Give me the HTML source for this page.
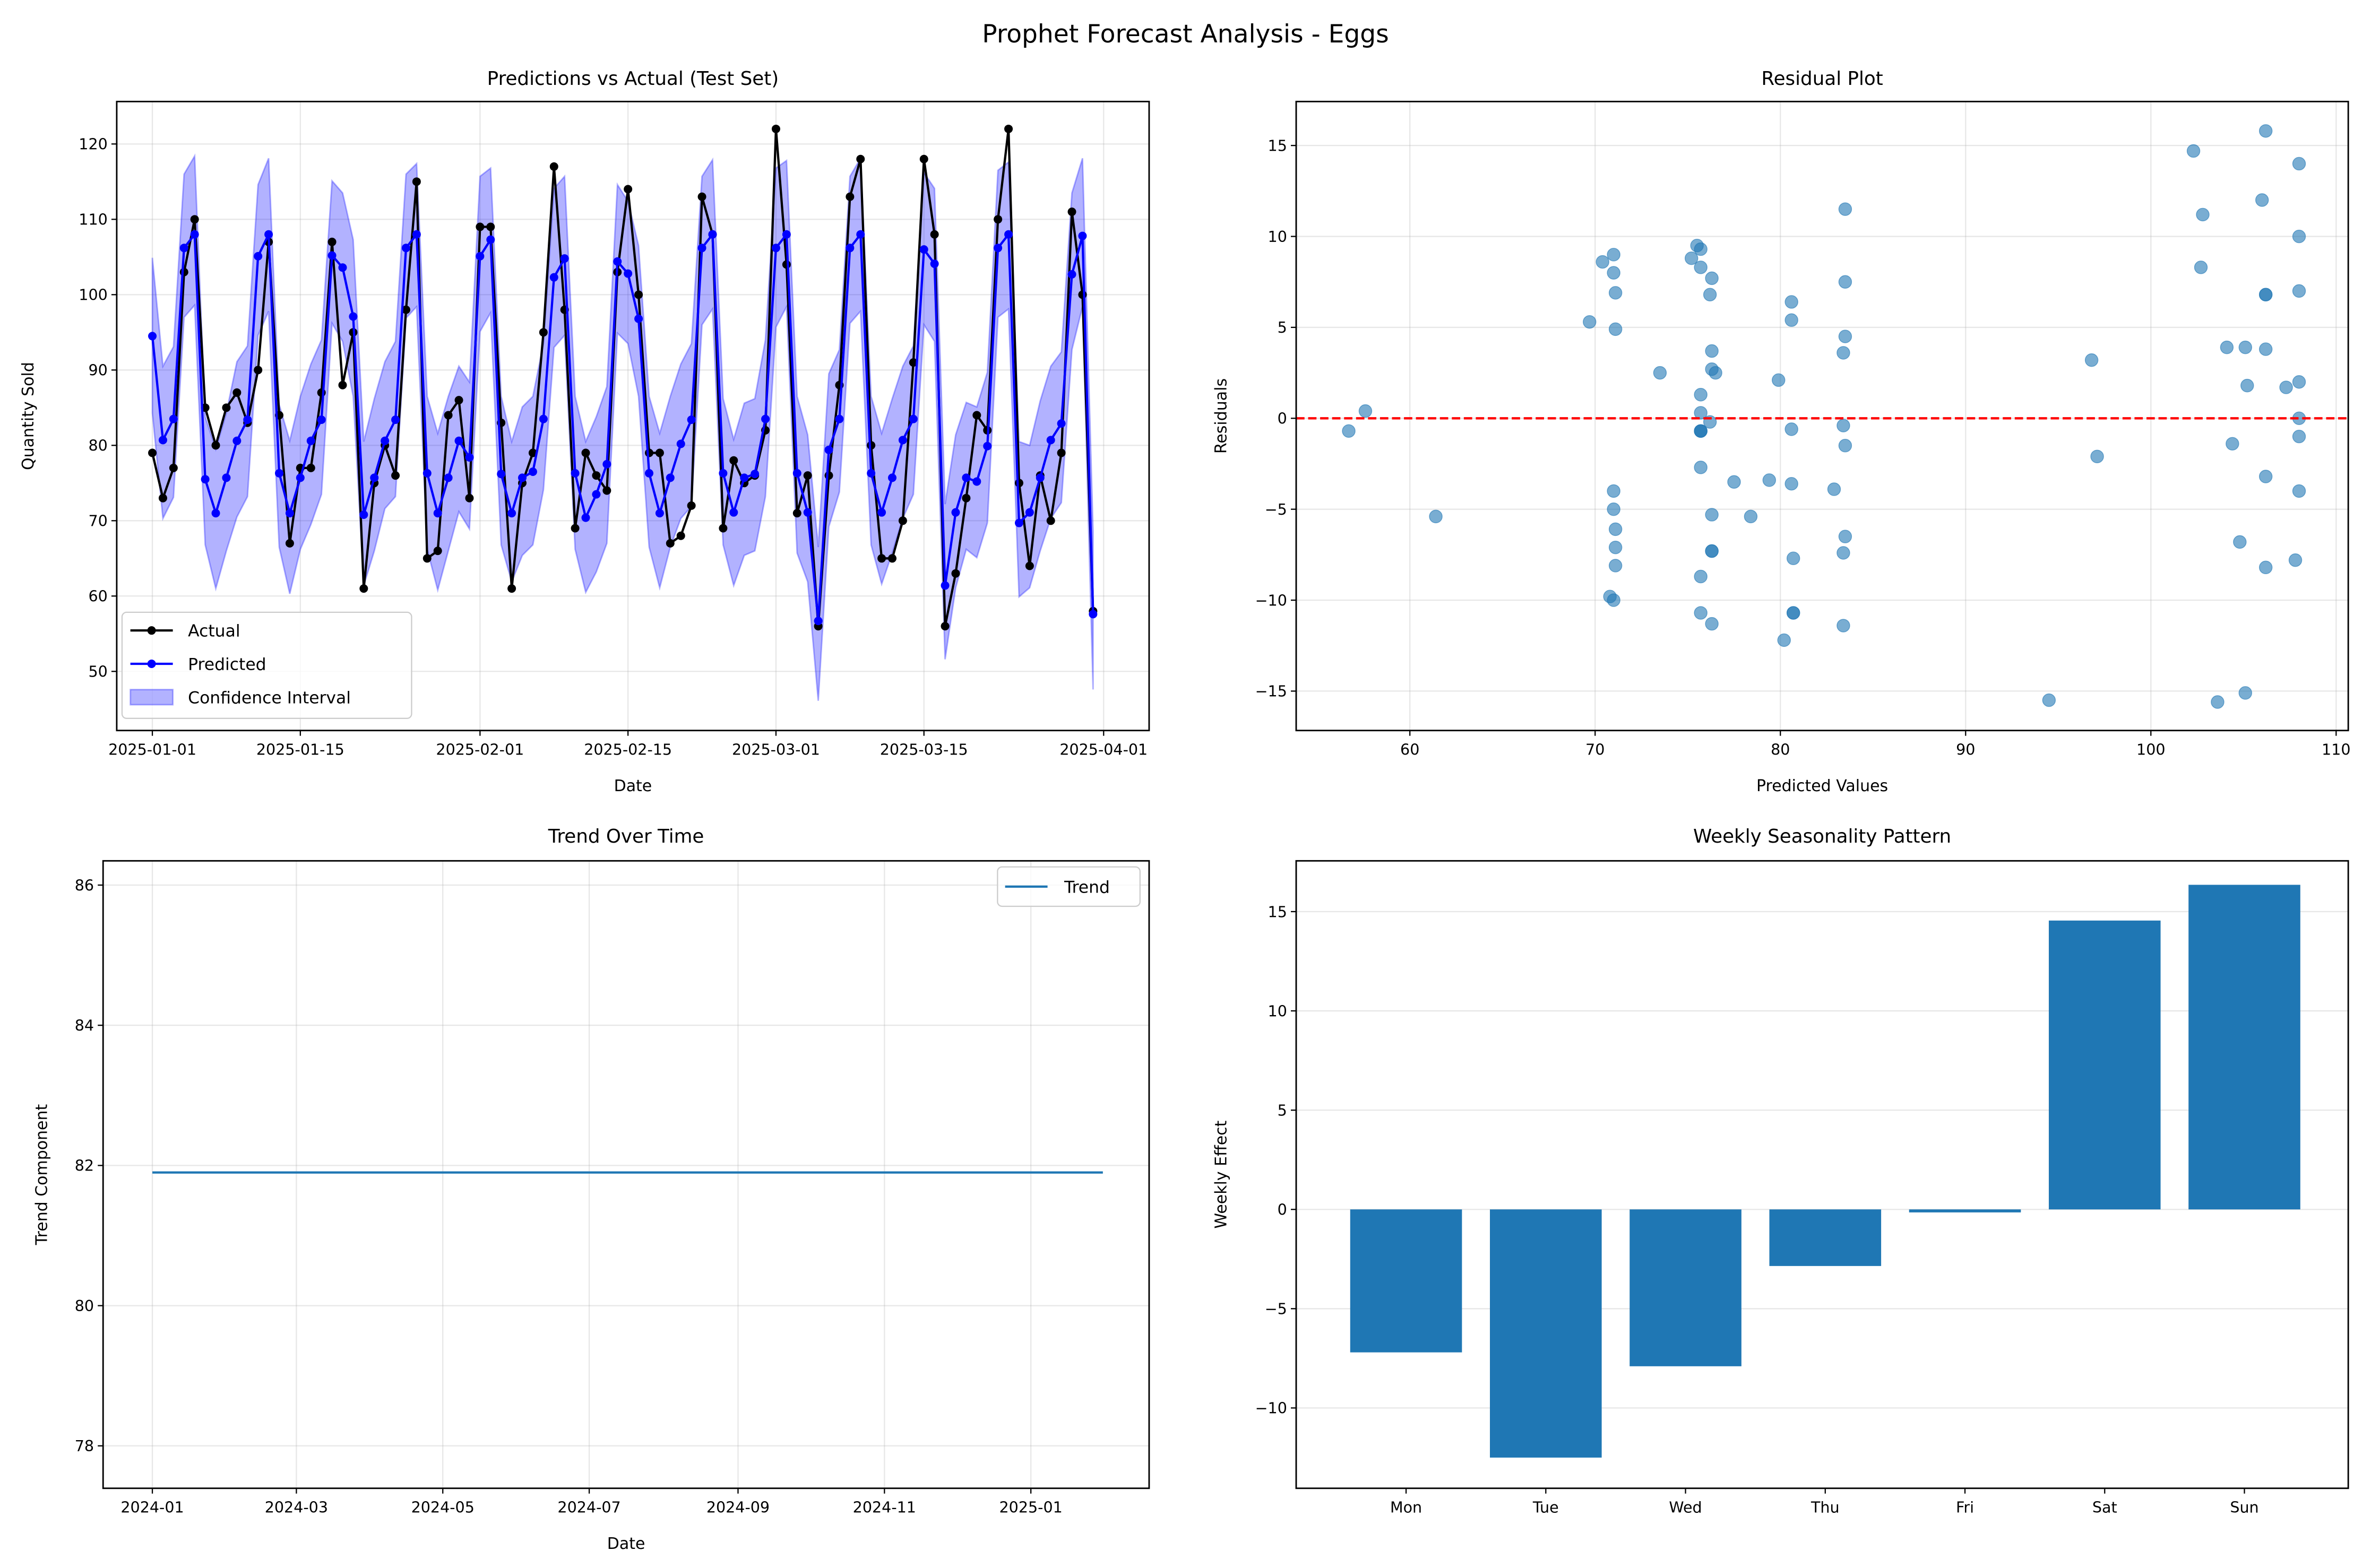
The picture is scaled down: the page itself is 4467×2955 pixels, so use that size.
<!DOCTYPE html>
<html><head><meta charset="utf-8"><style>
html,body{margin:0;padding:0;background:#fff}
svg{display:block;font-family:"DejaVu Sans","Liberation Sans",sans-serif}
</style></head><body>
<svg id="fig" width="4467" height="2955" viewBox="0 0 1564 1034.6" preserveAspectRatio="none" xmlns="http://www.w3.org/2000/svg">
<rect width="1564" height="1034.6" fill="#fff"/>
<text x="782" y="28" font-size="16.5" text-anchor="middle">Prophet Forecast Analysis - Eggs</text>
<g id="g1"></g><g id="g2"></g><g id="g3"></g><g id="g4"></g>
</svg>
<script>
// ---- data ----
const actual=[79,73,77,103,110,85,80,85,87,83,90,107,84,67,77,77,87,107,88,95,61,75,80,76,98,115,65,66,84,86,73,109,109,83,61,75,79,95,117,98,69,79,76,74,103,114,100,79,79,67,68,72,113,108,69,78,75,76,82,122,104,71,76,56,76,88,113,118,80,65,65,70,91,118,108,56,63,73,84,82,110,122,75,64,76,70,79,111,100,58];
const predicted=[94.5,80.7,83.5,106.2,108,75.5,71,75.7,80.6,83.4,105.1,108,76.3,71,75.7,80.6,83.4,105.2,103.6,97.1,70.8,75.7,80.6,83.4,106.2,108,76.3,71,75.7,80.6,78.4,105.1,107.3,76.2,71,75.7,76.5,83.5,102.3,104.8,76.3,70.4,73.5,77.5,104.4,102.8,96.8,76.3,71,75.7,80.2,83.4,106.2,108,76.3,71.1,75.7,76.2,83.5,106.2,108,76.3,71.1,56.7,79.4,83.5,106.2,108,76.3,71.1,75.7,80.7,83.5,106,104.1,61.4,71.1,75.7,75.2,79.9,106.2,108,69.7,71.1,75.7,80.7,82.9,102.7,107.8,57.6];
const upper=[104.9,90.5,93.1,116,118.4,83.8,79.5,84.3,91.1,93.2,114.6,118.1,85.4,80.6,86.5,90.8,94,115.1,113.5,107.3,80.5,86.2,91.1,93.8,116,117.4,86.5,81.6,86.5,90.5,88.4,115.7,116.8,86.5,80.5,85.1,86.5,93.5,114.1,115.7,86.5,80.5,83.8,87.8,114.6,112.4,106.5,86.5,81.6,86.5,90.8,93.5,115.7,117.9,86.2,80.8,85.6,86.2,94,116.8,117.8,86.5,81.4,66.5,89.5,92.7,115.7,118.1,86.5,81.6,86.2,90.5,93.2,116.2,114.1,72.2,81.4,85.7,85.1,89.7,116.5,117.6,80.5,80,85.9,90.5,92.4,113.5,118.1,68.6];
const lower=[84.3,70.3,73.1,97,98.6,66.8,61,66,70.5,73.2,94.6,97.8,66.5,60.3,66.2,69.5,73.5,96.2,93.8,86.5,61.4,66,71.6,73.2,96.9,98.4,66.2,60.8,66,71.2,68.9,95.1,97.6,66.8,61.9,65.4,66.8,74.1,93,94.6,66.2,60.5,63.2,67,94.9,93.5,86.5,66.5,61.1,66.5,70.3,71.9,96,98.1,66.8,61.4,65.4,66,73.2,95.7,98.4,65.7,61.9,46.1,69.2,73.8,96.2,97.8,66.8,61.6,65.7,70.3,73.5,96,93.8,51.6,61.1,66.2,65.1,69.7,97,98.1,59.9,61.1,66,70.3,72.4,92.7,98.4,47.6];
const tsTickLabels=["2025-01-01","2025-01-15","2025-02-01","2025-02-15","2025-03-01","2025-03-15","2025-04-01"];
const tsTickDays=[0,14,31,45,59,73,90];
const tsYTicks=[50,60,70,80,90,100,110,120];
const residXTicks=[60,70,80,90,100,110];
const residYTicks=[-15,-10,-5,0,5,10,15];
const trendValue=81.9;
const trendStartDay=0, trendEndDay=396;
const trendTickLabels=["2024-01","2024-03","2024-05","2024-07","2024-09","2024-11","2025-01"];
const trendTickDays=[0,60,121,182,244,305,366];
const trendYTicks=[78,80,82,84,86];
const weekdays=["Mon","Tue","Wed","Thu","Fri","Sat","Sun"];
const weeklyEffect=[-7.2,-12.5,-7.9,-2.85,-0.15,14.55,16.35];
const weeklyYTicks=[-10,-5,0,5,10,15];

const NS="http://www.w3.org/2000/svg";
function mk(parent,tag,attrs,text){const e=document.createElementNS(NS,tag);for(const k in attrs)e.setAttribute(k,attrs[k]);if(text!==undefined)e.textContent=text;parent.appendChild(e);return e;}
function lin(d0,d1,r0,r1){return v=>r0+(v-d0)*(r1-r0)/(d1-d0);}
function axesFrame(g,L,T,R,B){const f=mk(g,'rect',{x:L,y:T,width:R-L,height:B-T,fill:'none',stroke:'#000','stroke-width':1});

}
function xTick(g,x,B,label,name){const l=mk(g,'line',{x1:x,x2:x,y1:B,y2:B+3.5,stroke:'#000','stroke-width':0.8});
const t=mk(g,'text',{x:x,y:B+16,'font-size':10,'text-anchor':'middle'},label);

}
function yTick(g,y,L,label,name){mk(g,'line',{x1:L-3.5,x2:L,y1:y,y2:y,stroke:'#000','stroke-width':0.8});
const t=mk(g,'text',{x:L-6,y:y+3.6,'font-size':10,'text-anchor':'end'},label);

}
function grid(g,x1,y1,x2,y2){mk(g,'line',{x1,y1,x2,y2,stroke:'#b0b0b0','stroke-width':0.8,'stroke-opacity':0.3});}
function label(g,x,y,txt,name,size,rot){const a={x,y,'font-size':size,'text-anchor':'middle'};if(rot)a.transform=`rotate(-90 ${x} ${y})`;const t=mk(g,'text',a,txt);

}

// ---- panel 1 ----
(function(){const g=document.getElementById('g1');
const L=77,T=67,R=758,B=482;const xs=lin(0,90,100.5,728),ys=lin(50,120,443,95);
tsTickDays.forEach(d=>grid(g,xs(d),T,xs(d),B));tsYTicks.forEach(v=>grid(g,L,ys(v),R,ys(v)));
let p='';for(let i=0;i<upper.length;i++)p+=(i?'L':'M')+xs(i)+','+ys(upper[i]);for(let i=lower.length-1;i>=0;i--)p+='L'+xs(i)+','+ys(lower[i]);
const band=mk(g,'path',{d:p+'Z',fill:'#0000ff','fill-opacity':0.3,stroke:'#0000ff','stroke-opacity':0.3,'stroke-width':1});


const la=mk(g,'polyline',{points:actual.map((v,i)=>xs(i)+','+ys(v)).join(' '),fill:'none',stroke:'#000','stroke-width':1.5});


actual.forEach((v,i)=>{const c=mk(g,'circle',{cx:xs(i),cy:ys(v),r:2.8,fill:'#000'});

});
const lp=mk(g,'polyline',{points:predicted.map((v,i)=>xs(i)+','+ys(v)).join(' '),fill:'none',stroke:'#0000ff','stroke-width':1.5});


predicted.forEach((v,i)=>{const c=mk(g,'circle',{cx:xs(i),cy:ys(v),r:2.8,fill:'#0000ff'});

});
axesFrame(g,L,T,R,B);
tsTickDays.forEach((d,i)=>xTick(g,xs(d),B,tsTickLabels[i],'x-tick-label'));
tsYTicks.forEach(v=>yTick(g,ys(v),L,String(v),'y-tick-label'));
label(g,(L+R)/2,56,'Predictions vs Actual (Test Set)','panel-title',12.5);
label(g,(L+R)/2,522,'Date','x-axis-title',10.5);
label(g,22,(T+B)/2,'Quantity Sold','y-axis-title',10.5,true);
const lg=mk(g,'g',{});
mk(lg,'rect',{x:80.5,y:404,width:191,height:70,rx:3,fill:'#fff','fill-opacity':0.8,stroke:'#ccc','stroke-width':0.8});
mk(lg,'line',{x1:86,x2:114,y1:416,y2:416,stroke:'#000','stroke-width':1.5});mk(lg,'circle',{cx:100,cy:416,r:2.8,fill:'#000'});
mk(lg,'text',{x:124,y:420,'font-size':11},'Actual');
mk(lg,'line',{x1:86,x2:114,y1:438,y2:438,stroke:'#0000ff','stroke-width':1.5});mk(lg,'circle',{cx:100,cy:438,r:2.8,fill:'#0000ff'});
mk(lg,'text',{x:124,y:442,'font-size':11},'Predicted');
mk(lg,'rect',{x:86,y:455,width:28,height:10,fill:'#0000ff','fill-opacity':0.3,stroke:'#0000ff','stroke-opacity':0.3});
mk(lg,'text',{x:124,y:464,'font-size':11},'Confidence Interval');
})();

// ---- panel 2 ----
(function(){const g=document.getElementById('g2');
const L=855,T=67,R=1549,B=482;const xs=lin(60,110,930,1541),ys=lin(-15,15,456,96);
residXTicks.forEach(v=>grid(g,xs(v),T,xs(v),B));residYTicks.forEach(v=>grid(g,L,ys(v),R,ys(v)));
predicted.forEach((pv,i)=>{const c=mk(g,'circle',{cx:xs(pv),cy:ys(actual[i]-pv),r:4.2,fill:'#1f77b4','fill-opacity':0.6,stroke:'#1f77b4','stroke-opacity':0.6,'stroke-width':0.5});

});
const z=mk(g,'line',{x1:L,x2:R,y1:ys(0),y2:ys(0),stroke:'#ff0000','stroke-width':1.5,'stroke-dasharray':'5.5,2.4'});


axesFrame(g,L,T,R,B);
residXTicks.forEach(v=>xTick(g,xs(v),B,String(v),'x-tick-label'));
residYTicks.forEach(v=>yTick(g,ys(v),L,v<0?'\u2212'+(-v):String(v),'y-tick-label'));
label(g,(L+R)/2,56,'Residual Plot','panel-title',12.5);
label(g,(L+R)/2,522,'Predicted Values','x-axis-title',10.5);
label(g,809,(T+B)/2,'Residuals','y-axis-title',10.5,true);
})();

// ---- panel 3 ----
(function(){const g=document.getElementById('g3');
const L=68,T=568,R=758,B=982;const xs=lin(0,366,100.5,680),ys=lin(78,86,954,584);
trendTickDays.forEach(d=>grid(g,xs(d),T,xs(d),B));trendYTicks.forEach(v=>grid(g,L,ys(v),R,ys(v)));
const tl=mk(g,'line',{x1:xs(trendStartDay),x2:xs(trendEndDay),y1:ys(trendValue),y2:ys(trendValue),stroke:'#1f77b4','stroke-width':1.5});


axesFrame(g,L,T,R,B);
trendTickDays.forEach((d,i)=>xTick(g,xs(d),B,trendTickLabels[i],'x-tick-label'));
trendYTicks.forEach(v=>yTick(g,ys(v),L,String(v),'y-tick-label'));
label(g,(L+R)/2,556,'Trend Over Time','panel-title',12.5);
label(g,(L+R)/2,1022,'Date','x-axis-title',10.5);
label(g,31,(T+B)/2,'Trend Component','y-axis-title',10.5,true);
const lg=mk(g,'g',{});
mk(lg,'rect',{x:658,y:572,width:94,height:26,rx:3,fill:'#fff','fill-opacity':0.8,stroke:'#ccc','stroke-width':0.8});
mk(lg,'line',{x1:663,x2:691,y1:585,y2:585,stroke:'#1f77b4','stroke-width':1.5});
mk(lg,'text',{x:702,y:589,'font-size':11},'Trend');
})();

// ---- panel 4 ----
(function(){const g=document.getElementById('g4');
const L=855,T=568,R=1549,B=982;const xs=lin(0,6,927.5,1480.5),ys=lin(-10,10,929,667);const bw=0.8*(xs(1)-xs(0));
weeklyYTicks.forEach(v=>grid(g,L,ys(v),R,ys(v)));
weeklyEffect.forEach((v,i)=>{const y0=ys(0),y1=ys(v);const b=mk(g,'rect',{x:xs(i)-bw/2,y:Math.min(y0,y1),width:bw,height:Math.abs(y1-y0),fill:'#1f77b4'});

});
axesFrame(g,L,T,R,B);
weekdays.forEach((d,i)=>xTick(g,xs(i),B,d,'x-tick-label'));
weeklyYTicks.forEach(v=>yTick(g,ys(v),L,v<0?'\u2212'+(-v):String(v),'y-tick-label'));
label(g,(L+R)/2,556,'Weekly Seasonality Pattern','panel-title',12.5);
label(g,809,(T+B)/2,'Weekly Effect','y-axis-title',10.5,true);
})();
</script>
</body></html>
